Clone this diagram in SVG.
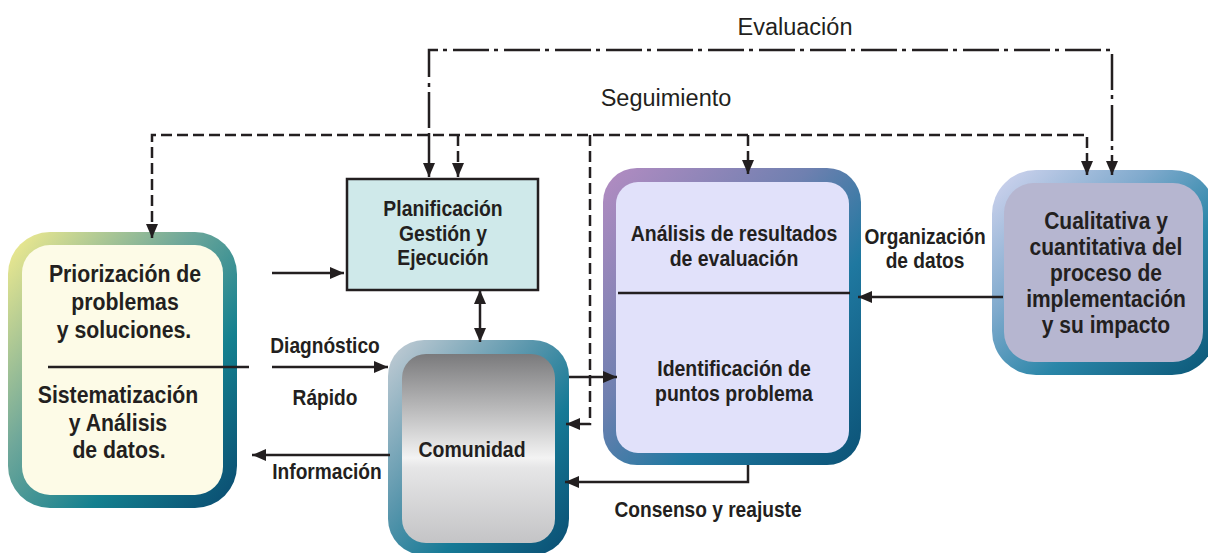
<svg xmlns="http://www.w3.org/2000/svg" width="1208" height="553" viewBox="0 0 1208 553">
<defs>
<style>
.b{font-family:"Liberation Sans",Arial,sans-serif;font-weight:bold;fill:#231f20;text-anchor:middle}
.r{font-family:"Liberation Sans",Arial,sans-serif;fill:#231f20;text-anchor:middle;font-size:23.5px}
.c{fill:none;stroke:#231f20;stroke-width:2.5}
.d{stroke-dasharray:11 5}
.dd{stroke-dasharray:36 5 4 6}
</style>
<marker id="ah" viewBox="0 0 14 12" markerWidth="14" markerHeight="12" refX="14" refY="6" markerUnits="userSpaceOnUse" orient="auto-start-reverse">
<path d="M0,0 L14,6 L0,12 z" fill="#231f20"/>
</marker>
<linearGradient id="gP" x1="0" y1="0" x2="1" y2="1">
<stop offset="0" stop-color="#f6ee8e"/><stop offset="0.4" stop-color="#6ea79a"/><stop offset="0.68" stop-color="#14808f"/><stop offset="1" stop-color="#0a4a70"/>
</linearGradient>
<linearGradient id="gC" x1="0" y1="0" x2="1" y2="1">
<stop offset="0" stop-color="#c6ced6"/><stop offset="0.4" stop-color="#5b97ad"/><stop offset="0.65" stop-color="#167a96"/><stop offset="1" stop-color="#0a4d72"/>
</linearGradient>
<linearGradient id="gCi" x1="0" y1="0" x2="0" y2="1">
<stop offset="0" stop-color="#7a7a7c"/><stop offset="0.55" stop-color="#f3f3f3"/><stop offset="0.6" stop-color="#e6e6e7"/><stop offset="1" stop-color="#c4c4c6"/>
</linearGradient>
<linearGradient id="gA" x1="0" y1="0" x2="1" y2="1">
<stop offset="0" stop-color="#b48cc2"/><stop offset="0.4" stop-color="#6f80b0"/><stop offset="0.65" stop-color="#1f78a0"/><stop offset="1" stop-color="#0b5276"/>
</linearGradient>
<linearGradient id="gQ" x1="0" y1="0" x2="1" y2="1">
<stop offset="0" stop-color="#d4d6f0"/><stop offset="0.35" stop-color="#80aacd"/><stop offset="0.62" stop-color="#2a86a8"/><stop offset="1" stop-color="#0a5575"/>
</linearGradient>
</defs>
<rect width="1208" height="553" fill="#ffffff"/>

<g id="priorizacion">
<rect x="8" y="232" width="229" height="276" rx="42" fill="url(#gP)"/>
<rect x="22" y="245" width="201" height="250" rx="28" fill="#fdfbe7"/>
<text class="b" font-size="24" transform="translate(125 282) scale(0.885 1)">Priorización de</text>
<text class="b" font-size="24" transform="translate(125 310) scale(0.885 1)">problemas</text>
<text class="b" font-size="24" transform="translate(124 338) scale(0.885 1)">y soluciones.</text>
<text class="b" font-size="24" transform="translate(118 403) scale(0.885 1)">Sistematización</text>
<text class="b" font-size="24" transform="translate(118 431) scale(0.885 1)">y Análisis</text>
<text class="b" font-size="24" transform="translate(119 458) scale(0.885 1)">de datos.</text>
</g>

<g id="planificacion">
<rect x="347" y="179" width="191" height="111" fill="#cfe9ea" stroke="#231f20" stroke-width="2.5"/>
<text class="b" font-size="21.5" transform="translate(443 216) scale(0.9 1)">Planificación</text>
<text class="b" font-size="21.5" transform="translate(443 241) scale(0.9 1)">Gestión y</text>
<text class="b" font-size="21.5" transform="translate(443 265) scale(0.9 1)">Ejecución</text>
</g>

<g id="comunidad">
<rect x="388" y="340" width="181" height="215" rx="36" fill="url(#gC)"/>
<rect x="402" y="354" width="153" height="189" rx="24" fill="url(#gCi)"/>
<text class="b" font-size="22" transform="translate(472 457) scale(0.885 1)">Comunidad</text>
</g>

<g id="analisis">
<rect x="603" y="168" width="258" height="297" rx="34" fill="url(#gA)"/>
<rect x="616" y="182" width="233" height="271" rx="22" fill="#e1e1fa"/>
<text class="b" font-size="22" transform="translate(734 241) scale(0.885 1)">Análisis de resultados</text>
<text class="b" font-size="22" transform="translate(734 266) scale(0.885 1)">de evaluación</text>
<text class="b" font-size="22" transform="translate(734 376) scale(0.885 1)">Identificación de</text>
<text class="b" font-size="22" transform="translate(734 401) scale(0.885 1)">puntos problema</text>
</g>

<g id="cualitativa">
<rect x="992" y="170" width="224" height="205" rx="44" fill="url(#gQ)"/>
<rect x="1004" y="183" width="199" height="179" rx="30" fill="#b6b6d0"/>
<text class="b" font-size="24" transform="translate(1106 229) scale(0.875 1)">Cualitativa y</text>
<text class="b" font-size="24" transform="translate(1106 255) scale(0.875 1)">cuantitativa del</text>
<text class="b" font-size="24" transform="translate(1106 281) scale(0.875 1)">proceso de</text>
<text class="b" font-size="24" transform="translate(1106 307) scale(0.875 1)">implementación</text>
<text class="b" font-size="24" transform="translate(1106 333) scale(0.875 1)">y su impacto</text>
</g>

<g id="connectors">
<path class="c" d="M48,367 H249"/>
<path class="c" d="M618,293 H850"/>
<path class="c" d="M272,273 H344" marker-end="url(#ah)"/>
<path class="c" d="M272,367 H388" marker-end="url(#ah)"/>
<path class="c" d="M390,455 H252" marker-end="url(#ah)"/>
<path class="c" d="M480,290 V342" marker-start="url(#ah)" marker-end="url(#ah)"/>
<path class="c" d="M569,377 H617" marker-end="url(#ah)"/>
<path class="c" d="M748,465 V482 H565" marker-end="url(#ah)"/>
<path class="c" d="M1003,297 H858" marker-end="url(#ah)"/>
<path class="c d" d="M152,238 V135 H1087 V175" marker-start="url(#ah)" marker-end="url(#ah)"/>
<path class="c d" d="M458,135 V177" marker-end="url(#ah)"/>
<path class="c d" d="M748,135 V174" marker-end="url(#ah)"/>
<path class="c d" d="M590,135 V424 H566" marker-end="url(#ah)"/>
<path class="c dd" d="M429,128 V50 H1112 V150"/>
<path class="c" d="M429,133 V177" marker-end="url(#ah)"/>
<path class="c" d="M1112,155 V175" marker-end="url(#ah)"/>
<text class="r" x="795" y="35">Evaluación</text>
<text class="r" x="666" y="106">Seguimiento</text>
<text class="b" font-size="21.5" transform="translate(325 353) scale(0.89 1)">Diagnóstico</text>
<text class="b" font-size="21.5" transform="translate(325 405) scale(0.89 1)">Rápido</text>
<text class="b" font-size="21.5" transform="translate(327 479) scale(0.89 1)">Información</text>
<text class="b" font-size="21.5" transform="translate(925 244) scale(0.89 1)">Organización</text>
<text class="b" font-size="21.5" transform="translate(925 268) scale(0.89 1)">de datos</text>
<text class="b" font-size="21.5" transform="translate(708 517) scale(0.89 1)">Consenso y reajuste</text>
</g>
</svg>
